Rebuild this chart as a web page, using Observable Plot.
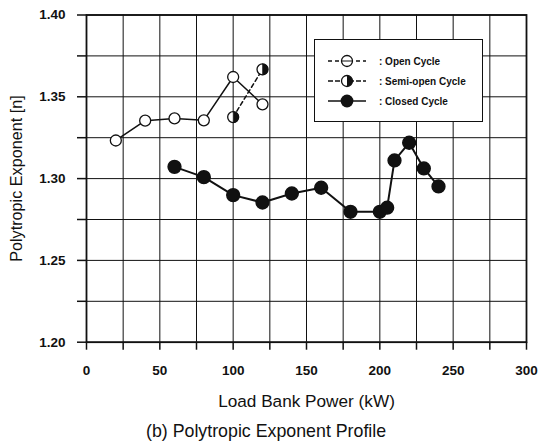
<!DOCTYPE html>
<html>
<head>
<meta charset="utf-8">
<script src="https://cdn.jsdelivr.net/npm/d3@7"></script>
<script src="https://cdn.jsdelivr.net/npm/@observablehq/plot@0.6"></script>
<style>
  html, body { margin: 0; padding: 0; background: #fff; }
  #wrap { position: relative; width: 551px; height: 444px; font-family: "Liberation Sans", Arial, sans-serif; }
  #legend { position: absolute; left: 314px; top: 39px; width: 167px; height: 81px; border: 1.5px solid #111; background: #fff; }
  .li { position: absolute; left: 0; height: 16px; display: flex; align-items: center; font-weight: bold; font-size: 10px; color: #111; }
  .li svg { margin-left: 13px; margin-right: 13px; }
  #caption { position: absolute; left: 146px; top: 421px; font-size: 17.8px; color: #111; white-space: nowrap; }
</style>
</head>
<body>
<div id="wrap">
  <div id="chart"></div>
  <div id="legend"></div>
  <div id="caption">(b) Polytropic Exponent Profile</div>
</div>
<script>
// ---- data ----
const openX = [20, 40, 60, 80, 100, 120];
const openY = [1.3233, 1.3354, 1.3368, 1.3356, 1.3621, 1.3454];

const semiX = [100, 120];
const semiY = [1.3376, 1.3668];

const closedX = [60, 80, 100, 120, 140, 160, 180, 200, 205, 210, 220, 230, 240];
const closedY = [1.3072, 1.3009, 1.2899, 1.2854, 1.2909, 1.2944, 1.2797, 1.2797, 1.2822, 1.3111, 1.3219, 1.3062, 1.2952];

const xTicks = [0, 25, 50, 75, 100, 125, 150, 175, 200, 225, 250, 275, 300];
const xTickLabels = ["0", "", "50", "", "100", "", "150", "", "200", "", "250", "", "300"];
const yTicks = [1.20, 1.225, 1.25, 1.275, 1.30, 1.325, 1.35, 1.375, 1.40];
const yTickLabels = ["1.20", "", "1.25", "", "1.30", "", "1.35", "", "1.40"];

const seriesNames = ["Open Cycle", "Semi-open Cycle", "Closed Cycle"];
const xTitle = "Load Bank Power (kW)";
const yTitle = "Polytropic Exponent [n]";

const toRows = (xs, ys) => xs.map((x, i) => ({x, y: ys[i]}));
const openRows = toRows(openX, openY);
const semiRows = toRows(semiX, semiY);
const closedRows = toRows(closedX, closedY);

// right-half disc symbol for the semi-open marker
const halfRight = {
  draw(context, size) {
    const r = Math.sqrt(size / Math.PI);
    context.moveTo(0, -r);
    context.arc(0, 0, r, -Math.PI / 2, Math.PI / 2);
    context.closePath();
  }
};

const ink = "#111";

const chart = Plot.plot({
  width: 551,
  height: 416,
  marginLeft: 86,
  marginRight: 25,
  marginTop: 14.5,
  marginBottom: 74.3,
  style: {fontFamily: "Liberation Sans, Arial, sans-serif", color: ink, background: "#fff"},
  x: {domain: [0, 300]},
  y: {domain: [1.20, 1.40]},
  marks: [
    Plot.gridX(xTicks, {stroke: ink, strokeOpacity: 1, strokeWidth: 1}),
    Plot.gridY(yTicks, {stroke: ink, strokeOpacity: 1, strokeWidth: 1}),
    Plot.frame({stroke: ink, strokeWidth: 1.8}),
    Plot.axisX({
      ticks: xTicks, tickSize: 8, tickPadding: 15,
      tickFormat: d => xTickLabels[xTicks.indexOf(d)],
      fontSize: 13.5, fontWeight: "bold", label: null,
      strokeWidth: 1.5
    }),
    Plot.axisX({
      ticks: [], tickSize: 0, fontSize: 17.2,
      label: xTitle, labelAnchor: "center", labelArrow: "none", labelOffset: 65
    }),
    Plot.axisY({
      ticks: yTicks, tickSize: 9, tickPadding: 12,
      tickFormat: d => yTickLabels[yTicks.findIndex(t => Math.abs(t - d) < 1e-9)],
      fontSize: 13.5, fontWeight: "bold", label: null,
      strokeWidth: 1.5
    }),
    Plot.axisY({
      ticks: [], tickSize: 0, fontSize: 16.2,
      label: yTitle, labelAnchor: "center", labelArrow: "none", labelOffset: 76
    }),
    // open cycle
    Plot.line(openRows, {x: "x", y: "y", stroke: ink, strokeWidth: 1.5}),
    Plot.dot(openRows, {x: "x", y: "y", r: 5.5, fill: "#fff", stroke: ink, strokeWidth: 1.3}),
    // semi-open cycle
    Plot.line(semiRows, {x: "x", y: "y", stroke: ink, strokeWidth: 1.5, strokeDasharray: "4,3"}),
    Plot.dot(semiRows, {x: "x", y: "y", r: 5.5, fill: "#fff", stroke: ink, strokeWidth: 1.3}),
    Plot.dot(semiRows, {x: "x", y: "y", r: 5.5, symbol: halfRight, fill: ink, stroke: ink, strokeWidth: 0.5}),
    // closed cycle
    Plot.line(closedRows, {x: "x", y: "y", stroke: ink, strokeWidth: 2}),
    Plot.dot(closedRows, {x: "x", y: "y", r: 6.4, fill: ink, stroke: ink})
  ]
});
document.getElementById("chart").appendChild(chart);

// legend
const legend = document.getElementById("legend");
const legendStyles = [
  {dash: "4,3", kind: "open"},
  {dash: "5,2", kind: "semi"},
  {dash: null, kind: "closed"}
];
const legendTops = [13, 33, 53];
seriesNames.forEach((name, i) => {
  const st = legendStyles[i];
  const row = document.createElement("div");
  row.className = "li";
  row.style.top = legendTops[i] + "px";
  let marker;
  if (st.kind === "open") marker = `<circle cx="19" cy="8" r="5.5" fill="#fff" stroke="${ink}" stroke-width="1.3"/><line x1="13.5" y1="8" x2="24.5" y2="8" stroke="${ink}" stroke-width="1"/>`;
  else if (st.kind === "semi") marker = `<circle cx="19" cy="8" r="5.5" fill="#fff" stroke="${ink}" stroke-width="1.3"/><path d="M19,2.5 A5.5,5.5 0 0 1 19,13.5 Z" fill="${ink}"/>`;
  else marker = `<circle cx="19" cy="8" r="6.4" fill="${ink}"/>`;
  row.innerHTML = `<svg width="38" height="16">
      <line x1="0" y1="8" x2="38" y2="8" stroke="${ink}" stroke-width="1.5" ${st.dash ? `stroke-dasharray="${st.dash}"` : ""}/>
      ${marker}
    </svg><span>: ${name}</span>`;
  legend.appendChild(row);
});
</script>
</body>
</html>
